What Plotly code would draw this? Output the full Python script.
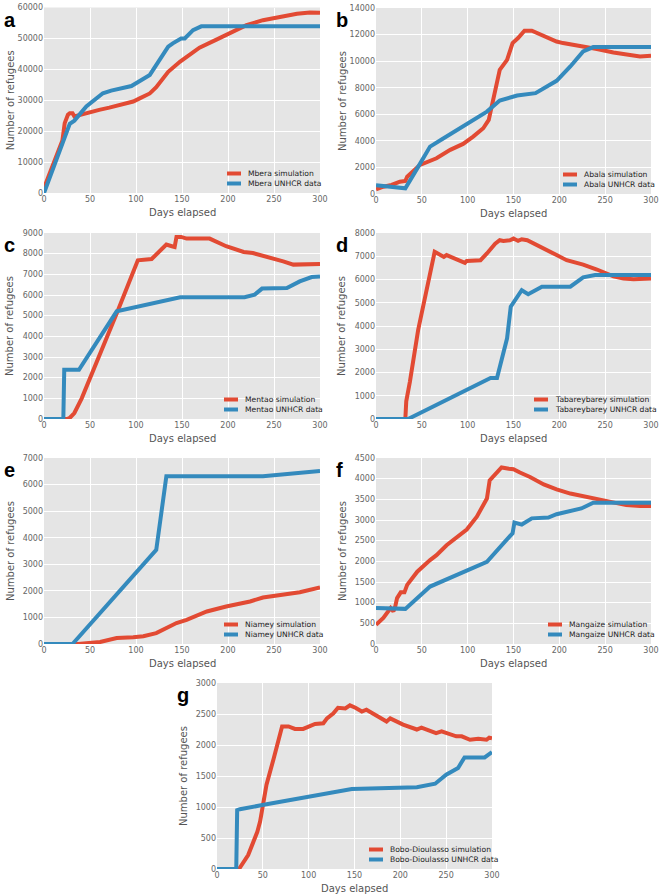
import plotly.graph_objects as go

W, H = 660, 894

# ---------------- data ----------------
# a: Mbera
a_sim_x = [0, 20, 22.5, 26, 28, 31, 33, 39, 60, 71, 97, 104, 115, 122, 135, 148, 155, 169, 188, 206, 220, 238, 260, 275, 289, 300]
a_sim_y = [1600, 17000, 22600, 25300, 25800, 25800, 24800, 25300, 26900, 27600, 29600, 30600, 32200, 34200, 39200, 42500, 44100, 47000, 49700, 52100, 54300, 55900, 57300, 58000, 58400, 58300]
a_dat_x = [0, 28, 33, 46, 64, 73, 95, 115, 126, 135, 140, 149, 153, 162, 171, 300]
a_dat_y = [0, 22400, 23400, 28000, 32250, 33100, 34600, 38200, 43200, 47300, 48400, 50000, 50000, 52700, 53900, 53900]

# b: Abala
b_sim_x = [0, 8, 17, 23, 26, 32, 34, 48, 59, 66, 81, 95, 106, 117, 123, 128, 135, 143, 149, 155, 162, 170, 183, 197, 204, 215, 226, 241, 259, 277, 288, 300]
b_sim_y = [350, 550, 680, 850, 930, 980, 1300, 2190, 2490, 2690, 3320, 3770, 4320, 4950, 5580, 7090, 9350, 10100, 11360, 11740, 12290, 12290, 11860, 11480, 11360, 11230, 11160, 10910, 10650, 10480, 10350, 10400]
b_dat_x = [0, 32, 45, 59, 72, 95, 121, 135, 154, 174, 197, 212, 226, 237, 300]
b_dat_y = [650, 430, 1930, 3570, 4120, 5080, 6200, 7040, 7410, 7590, 8520, 9600, 10730, 11060, 11060]

# c: Mentao
c_sim_x = [0, 25, 28, 33, 41, 61, 79, 95, 102, 117, 124, 133, 139, 142, 144, 149, 155, 171, 180, 198, 217, 227, 242, 260, 271, 278, 289, 300]
c_sim_y = [0, 0, 50, 290, 1000, 3100, 5100, 6900, 7680, 7740, 8030, 8440, 8360, 8320, 8810, 8810, 8730, 8760, 8730, 8360, 8080, 8030, 7870, 7630, 7470, 7470, 7500, 7500]
c_dat_x = [0, 21, 22, 38, 79, 122, 148, 218, 229, 237, 264, 278, 291, 300]
c_dat_y = [0, 0, 2380, 2380, 5210, 5610, 5890, 5890, 6020, 6310, 6340, 6660, 6870, 6900]

# d: Tabareybarey
d_sim_x = [0, 32, 33, 37, 46, 56, 64, 66, 74, 77, 94, 97, 99, 114, 121, 130, 135, 139, 146, 150, 155, 159, 165, 172, 183, 197, 208, 226, 241, 259, 270, 281, 300]
d_sim_y = [0, 0, 760, 1610, 3830, 5690, 7190, 7150, 6970, 7050, 6760, 6720, 6800, 6830, 7120, 7540, 7690, 7660, 7690, 7760, 7660, 7730, 7690, 7540, 7330, 7050, 6830, 6640, 6430, 6140, 6040, 6010, 6040]
d_dat_x = [0, 35, 125, 132, 143, 147, 159, 166, 181, 212, 226, 239, 300]
d_dat_y = [0, 0, 1760, 1760, 3470, 4830, 5540, 5370, 5690, 5690, 6090, 6190, 6190]

# e: Niamey
e_sim_x = [0, 37, 61, 79, 97, 108, 122, 133, 144, 155, 177, 198, 224, 238, 260, 278, 300]
e_sim_y = [0, 0, 75, 225, 250, 290, 410, 600, 790, 910, 1225, 1410, 1600, 1750, 1875, 1950, 2125]
e_dat_x = [0, 31, 122, 133, 238, 300]
e_dat_y = [0, 0, 3540, 6310, 6310, 6510]

# f: Mangaize
f_sim_x = [0, 8, 16, 19, 21, 23, 27, 31, 34, 45, 59, 66, 77, 88, 99, 110, 121, 124, 132, 137, 145, 150, 157, 168, 183, 197, 212, 226, 241, 259, 273, 288, 300]
f_sim_y = [466, 630, 870, 790, 910, 1110, 1250, 1250, 1430, 1750, 2030, 2150, 2390, 2570, 2770, 3080, 3520, 3960, 4160, 4270, 4240, 4230, 4150, 4040, 3860, 3740, 3640, 3580, 3520, 3440, 3360, 3340, 3340]
f_dat_x = [0, 32, 59, 121, 149, 151, 159, 170, 188, 197, 224, 237, 300]
f_dat_y = [870, 850, 1390, 1990, 2680, 2940, 2890, 3040, 3060, 3140, 3280, 3420, 3420]

# g: Bobo-Dioulasso
g_sim_x = [0, 24, 34, 44, 47, 54, 62, 71, 78, 85, 94, 102, 107, 116, 120, 127, 132, 140, 145, 151, 158, 163, 174, 185, 189, 203, 218, 223, 239, 245, 261, 267, 276, 285, 294, 297, 300]
g_sim_y = [0, 0, 225, 600, 765, 1360, 1790, 2300, 2300, 2260, 2260, 2300, 2340, 2350, 2430, 2510, 2600, 2590, 2640, 2600, 2540, 2570, 2480, 2380, 2430, 2330, 2250, 2280, 2190, 2220, 2140, 2140, 2085, 2100, 2085, 2120, 2110]
g_dat_x = [0, 21, 22, 25, 51, 147, 218, 232, 238, 250, 263, 270, 292, 300]
g_dat_y = [0, 0, 950, 965, 1035, 1290, 1320, 1370, 1375, 1520, 1630, 1800, 1800, 1885]

names = ["Mbera", "Abala", "Mentao", "Tabareybarey", "Niamey", "Mangaize", "Bobo-Dioulasso"]
letters = ["a", "b", "c", "d", "e", "f", "g"]
y_max = [60000, 14000, 9000, 8000, 7000, 4500, 3000]
y_step = [10000, 2000, 1000, 1000, 1000, 500, 500]
x_ticks = [0, 50, 100, 150, 200, 250, 300]

series = [
    (a_sim_x, a_sim_y, a_dat_x, a_dat_y),
    (b_sim_x, b_sim_y, b_dat_x, b_dat_y),
    (c_sim_x, c_sim_y, c_dat_x, c_dat_y),
    (d_sim_x, d_sim_y, d_dat_x, d_dat_y),
    (e_sim_x, e_sim_y, e_dat_x, e_dat_y),
    (f_sim_x, f_sim_y, f_dat_x, f_dat_y),
    (g_sim_x, g_sim_y, g_dat_x, g_dat_y),
]

# ---------------- layout geometry (pixels) ----------------
boxes = [
    (44, 320, 7.5, 193),
    (376, 651, 8, 194),
    (44, 320, 233, 419),
    (376, 651, 233, 419),
    (44, 320, 458, 644),
    (376, 651, 458, 644),
    (217, 492, 683, 869),
]
# legend key line start (px) per panel
legend_x = [227, 563, 224, 534, 224, 548, 369]

RED = "#E24A33"
BLUE = "#348ABD"
FONT = "DejaVu Sans"
TICKC = "#666666"
LW = 4


def px(x):
    return x / W


def py(y):
    return 1 - y / H


fig = go.Figure()
layout = dict(
    width=W, height=H,
    margin=dict(l=0, r=0, t=0, b=0),
    paper_bgcolor="white",
    plot_bgcolor="#E5E5E5",
    font=dict(family=FONT, color="#555555"),
    showlegend=False,
)
annotations = []
shapes = []

for i in range(7):
    sx, sy, dx, dy = series[i]
    n = "" if i == 0 else str(i + 1)
    fig.add_trace(go.Scatter(x=sx, y=sy, mode="lines", name=f"{names[i]} simulation",
                             line=dict(color=RED, width=LW), xaxis="x" + n, yaxis="y" + n))
    fig.add_trace(go.Scatter(x=dx, y=dy, mode="lines", name=f"{names[i]} UNHCR data",
                             line=dict(color=BLUE, width=LW), xaxis="x" + n, yaxis="y" + n))
    x0, x1, y0, y1 = boxes[i]
    yt = list(range(0, y_max[i] + 1, y_step[i]))
    layout["xaxis" + n] = dict(
        domain=[px(x0), px(x1)], anchor="y" + n, range=[0, 300], tickvals=x_ticks,
        showgrid=True, gridcolor="white", gridwidth=1, zeroline=False,
        showline=False, ticks="", tickfont=dict(size=8, color=TICKC, family=FONT),
        fixedrange=True, automargin=False,
    )
    layout["yaxis" + n] = dict(
        domain=[py(y1), py(y0)], anchor="x" + n, range=[0, y_max[i]], tickvals=yt,
        tickformat="d",
        showgrid=True, gridcolor="white", gridwidth=1, zeroline=False,
        showline=False, ticks="", tickfont=dict(size=8, color=TICKC, family=FONT),
        fixedrange=True, automargin=False,
    )
    # manual legend (key lines + labels)
    lx = legend_x[i]
    for k, (lab, col) in enumerate([(f"{names[i]} simulation", RED), (f"{names[i]} UNHCR data", BLUE)]):
        ly = y1 - 19.5 + 10 * k
        shapes.append(dict(type="line", xref="paper", yref="paper",
                           x0=px(lx), x1=px(lx + 14), y0=py(ly), y1=py(ly),
                           line=dict(color=col, width=LW)))
        annotations.append(dict(
            text=lab, x=px(lx + 19), y=py(ly), xref="paper", yref="paper",
            xanchor="left", yanchor="middle", showarrow=False,
            font=dict(size=7.6, color="#222222", family=FONT),
        ))
    # panel letter
    annotations.append(dict(
        text=f"<b>{letters[i]}</b>", x=px(x0 - 42), y=py(y0 - 1),
        xref="paper", yref="paper", xanchor="left", yanchor="top", showarrow=False,
        font=dict(size=20, color="black", family="Liberation Sans"),
    ))
    # x title
    annotations.append(dict(
        text="Days elapsed", x=px((x0 + x1) / 2), y=py(y1 + 19),
        xref="paper", yref="paper", xanchor="center", yanchor="middle", showarrow=False,
        font=dict(size=10, color="#555555", family=FONT),
    ))
    # y title
    annotations.append(dict(
        text="Number of refugees", x=px(x0 - 34), y=py((y0 + y1) / 2),
        xref="paper", yref="paper", xanchor="center", yanchor="middle", showarrow=False,
        textangle=-90, font=dict(size=10, color="#555555", family=FONT),
    ))

layout["annotations"] = annotations
layout["shapes"] = shapes
fig.update_layout(**layout)
fig.write_html("out.html", config={"displayModeBar": False},
               post_script="document.body.style.margin='0px';")
